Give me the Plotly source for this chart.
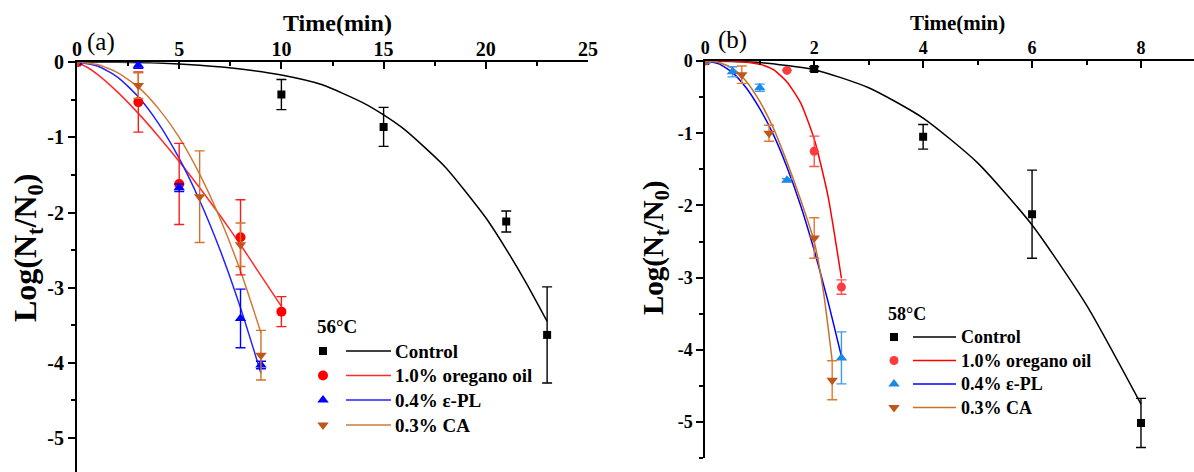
import plotly.graph_objects as go

# ---------------- data: panel (a) 56 °C ----------------
a_ctrl_t = [0, 10, 15, 21, 23]
a_ctrl_y = [0, -0.43, -0.86, -2.12, -3.63]
a_ctrl_e = [0, 0.20, 0.26, 0.14, 0.64]
a_oreg_t = [0, 3, 5, 8, 10]
a_oreg_y = [0, -0.53, -1.62, -2.33, -3.32]
a_oreg_e = [0, 0.40, 0.54, 0.50, 0.20]
a_epl_t = [0, 3, 5, 8, 9]
a_epl_y = [0, -0.04, -1.67, -3.41, -4.03]
a_epl_e = [0, 0.04, 0.05, 0.39, 0.05]
a_ca_t = [0, 3, 6, 8, 9]
a_ca_y = [0, -0.31, -1.79, -2.43, -3.90]
a_ca_e = [0, 0.17, 0.61, 0.29, 0.33]

# fitted curves
a_fit_ctrl_t = [0, 2, 4, 6, 8, 10, 12, 14, 15, 16, 18, 20, 21, 22, 23]
a_fit_ctrl_y = [0, 0, -0.01, -0.04, -0.09, -0.17, -0.30, -0.54, -0.70, -0.89, -1.39, -2.07, -2.49, -2.95, -3.45]
a_fit_oreg_t = [0, 0.5, 1, 2, 3, 4, 5, 6, 7, 8, 9, 10]
a_fit_oreg_y = [0, -0.066, -0.16, -0.40, -0.68, -0.99, -1.32, -1.67, -2.04, -2.43, -2.84, -3.25]
a_fit_epl_t = [0, 1, 2, 3, 4, 5, 6, 7, 8, 9]
a_fit_epl_y = [0, -0.05, -0.20, -0.46, -0.82, -1.28, -1.84, -2.50, -3.27, -4.14]
a_fit_ca_t = [0, 1, 2, 3, 4, 5, 6, 7, 8, 9]
a_fit_ca_y = [0, -0.03, -0.14, -0.33, -0.62, -1.00, -1.49, -2.08, -2.78, -3.60]

# ---------------- data: panel (b) 58 °C ----------------
b_ctrl_t = [0, 2, 4, 6, 8]
b_ctrl_y = [0, -0.11, -1.05, -2.12, -5.01]
b_ctrl_e = [0, 0.03, 0.17, 0.61, 0.34]
b_oreg_t = [0, 1.5, 2, 2.5]
b_oreg_y = [0, -0.13, -1.25, -3.13]
b_oreg_e = [0, 0, 0.21, 0.10]
b_epl_t = [0, 0.5, 1, 1.5, 2.5]
b_epl_y = [0, -0.15, -0.37, -1.65, -4.11]
b_epl_e = [0, 0.07, 0.05, 0.02, 0.36]
b_ca_t = [0, 0.67, 1.17, 2, 2.33]
b_ca_y = [0, -0.19, -1.00, -2.45, -4.42]
b_ca_e = [0, 0.12, 0.11, 0.28, 0.27]

b_fit_ctrl_t = [0, 1, 2, 3, 4, 5, 6, 7, 8]
b_fit_ctrl_y = [0, -0.02, -0.12, -0.37, -0.79, -1.41, -2.27, -3.38, -4.75]
b_fit_oreg_t = [0, 0.5, 1, 1.25, 1.5, 1.75, 2, 2.25, 2.5]
b_fit_oreg_y = [0, -0.002, -0.045, -0.12, -0.29, -0.58, -1.08, -1.86, -3.01]
b_fit_epl_t = [0, 0.25, 0.5, 0.75, 1, 1.25, 1.5, 1.75, 2, 2.25, 2.5]
b_fit_epl_y = [0, -0.04, -0.16, -0.37, -0.66, -1.02, -1.47, -2.00, -2.62, -3.32, -4.09]
b_fit_ca_t = [0, 0.25, 0.5, 0.75, 1, 1.25, 1.5, 1.75, 2, 2.17, 2.33]
b_fit_ca_y = [0, -0.02, -0.10, -0.28, -0.56, -0.93, -1.40, -1.92, -2.50, -3.20, -4.15]

series_names = ["Control", "1.0% oregano oil", "0.4% \u03b5-PL", "0.3% CA"]

# tick labels
a_xticks = [0, 5, 10, 15, 20, 25]
a_xminor = [2.5, 7.5, 12.5, 17.5, 22.5]
b_xticks = [0, 2, 4, 6, 8]
b_xminor = [1, 3, 5, 7]
yticks = [0, -1, -2, -3, -4, -5]
yminor = [-0.5, -1.5, -2.5, -3.5, -4.5, -5.5]
ytick_text = ["0", "-1", "-2", "-3", "-4", "-5"]

FONT = "Liberation Serif"
W, H = 1194, 472

# ---------------- styles ----------------
sty_a = [
    dict(sym="square", size=8, mc="#000000", lc="#000000", ec="#000000"),
    dict(sym="circle", size=10, mc="#ff0000", lc="#ff2a2a", ec="#ff1a1a"),
    dict(sym="triangle-up", size=10, mc="#0000ff", lc="#2222ff", ec="#0000ff"),
    dict(sym="triangle-down", size=10, mc="#c0561a", lc="#d07a36", ec="#d2722e"),
]
sty_b = [
    dict(sym="square", size=8, mc="#000000", lc="#000000", ec="#000000"),
    dict(sym="circle", size=9, mc="#ff3b3b", lc="#ff0000", ec="#ff5050"),
    dict(sym="triangle-up", size=10, mc="#1e88e5", lc="#0000ff", ec="#3a9cf0"),
    dict(sym="triangle-down", size=10, mc="#c0561a", lc="#c8702a", ec="#e07a30"),
]

fig = go.Figure()

def add_panel(xa, ya, pts, fits, styles):
    for (ft, fy), s in zip(fits, styles):
        fig.add_trace(go.Scatter(x=ft, y=fy, mode="lines", line=dict(color=s["lc"], width=1.5, shape="spline", smoothing=0.6),
                                 xaxis=xa, yaxis=ya, showlegend=False, hoverinfo="skip"))
    for (t, y, e), s in zip(pts, styles):
        fig.add_trace(go.Scatter(x=t, y=y, mode="markers",
                                 marker=dict(symbol=s["sym"], size=s["size"], color=s["mc"]),
                                 error_y=dict(type="data", array=e, visible=True, color=s["ec"], thickness=1.4, width=5),
                                 xaxis=xa, yaxis=ya, showlegend=False))

add_panel("x", "y",
          [(a_ctrl_t, a_ctrl_y, a_ctrl_e), (a_oreg_t, a_oreg_y, a_oreg_e), (a_epl_t, a_epl_y, a_epl_e), (a_ca_t, a_ca_y, a_ca_e)],
          [(a_fit_ctrl_t, a_fit_ctrl_y), (a_fit_oreg_t, a_fit_oreg_y), (a_fit_epl_t, a_fit_epl_y), (a_fit_ca_t, a_fit_ca_y)],
          sty_a)
add_panel("x2", "y2",
          [(b_ctrl_t, b_ctrl_y, b_ctrl_e), (b_oreg_t, b_oreg_y, b_oreg_e), (b_epl_t, b_epl_y, b_epl_e), (b_ca_t, b_ca_y, b_ca_e)],
          [(b_fit_ctrl_t, b_fit_ctrl_y), (b_fit_oreg_t, b_fit_oreg_y), (b_fit_epl_t, b_fit_epl_y), (b_fit_ca_t, b_fit_ca_y)],
          sty_b)

# ---------------- custom legends (pixel-space overlay axis) ----------------
annotations = []

def add_legend(title, x0, ytitle, y_rows, mx, lx0, lx1, tx, styles, fsize):
    annotations.append(dict(text="<b>" + title + "</b>", x=x0, y=ytitle, xref="x3", yref="y3",
                            xanchor="left", yanchor="middle", showarrow=False,
                            font=dict(family=FONT, size=fsize, color="black")))
    for name, yy, s in zip(series_names, y_rows, styles):
        fig.add_trace(go.Scatter(x=[lx0, lx1], y=[yy, yy], mode="lines", line=dict(color=s["lc"], width=1.5),
                                 xaxis="x3", yaxis="y3", showlegend=False, hoverinfo="skip"))
        fig.add_trace(go.Scatter(x=[mx], y=[yy], mode="markers",
                                 marker=dict(symbol=s["sym"], size=s["size"], color=s["mc"]),
                                 xaxis="x3", yaxis="y3", showlegend=False, hoverinfo="skip"))
        annotations.append(dict(text="<b>" + name + "</b>", x=tx, y=yy, xref="x3", yref="y3",
                                xanchor="left", yanchor="middle", showarrow=False,
                                font=dict(family=FONT, size=fsize, color="black")))

add_legend("56\u00b0C", 315, 326, [351, 375.5, 400, 425], 323, 346, 391, 393, sty_a, 19)
add_legend("58\u00b0C", 886, 314, [337, 360.5, 384, 407.5], 894, 913, 956, 959, sty_b, 18)

# panel letters and axis titles
annotations += [
    dict(text="(a)", x=101, y=42, xref="x3", yref="y3", showarrow=False,
         font=dict(family=FONT, size=25, color="black")),
    dict(text="(b)", x=732, y=40, xref="x3", yref="y3", showarrow=False,
         font=dict(family=FONT, size=25, color="black")),
    dict(text="<b>Time(min)</b>", x=337, y=23, xref="x3", yref="y3", showarrow=False,
         font=dict(family=FONT, size=24, color="black")),
    dict(text="<b>Time(min)</b>", x=957, y=23, xref="x3", yref="y3", showarrow=False,
         font=dict(family=FONT, size=21, color="black")),
    dict(text="<b>Log(N<sub>t</sub>/N<sub>0</sub>)</b>", x=27, y=248, xref="x3", yref="y3", showarrow=False,
         textangle=-90, font=dict(family=FONT, size=32, color="black")),
    dict(text="<b>Log(N<sub>t</sub>/N<sub>0</sub>)</b>", x=655, y=248, xref="x3", yref="y3", showarrow=False,
         textangle=-90, font=dict(family=FONT, size=29, color="black")),
]

# ---------------- axes ----------------
def xaxis_def(domain, rng, ticks, minor, fsize, anchor, standoff):
    return dict(domain=domain, range=rng, side="top", anchor=anchor, automargin=False,
                showline=True, linecolor="black", linewidth=2, showgrid=False, zeroline=False,
                tickmode="array", tickvals=ticks, ticktext=[str(v) for v in ticks],
                ticks="inside", ticklen=7, tickwidth=2, tickcolor="black", ticklabelstandoff=standoff,
                minor=dict(tickmode="array", tickvals=minor, ticks="inside", ticklen=4, tickwidth=2, tickcolor="black"),
                tickfont=dict(family=FONT, size=fsize, color="black", weight="bold"))

def yaxis_def(domain, rng, fsize, anchor):
    return dict(domain=domain, range=rng, anchor=anchor, automargin=False,
                showline=True, linecolor="black", linewidth=2, showgrid=False, zeroline=False,
                tickmode="array", tickvals=yticks, ticktext=ytick_text,
                ticks="outside", ticklen=7, tickwidth=2, tickcolor="black",
                minor=dict(tickmode="array", tickvals=yminor, ticks="outside", ticklen=4, tickwidth=2, tickcolor="black"),
                tickfont=dict(family=FONT, size=fsize, color="black", weight="bold"))

a_left, a_right, a_top = 77, 588, 62.3
b_left, b_top, b_bot = 705.3, 61, 458.3
a_ppu_y = 75.1
b_ppu_x = 54.46

fig.update_layout(
    width=W, height=H, autosize=False,
    margin=dict(l=0, r=0, t=0, b=0, pad=0, autoexpand=False),
    paper_bgcolor="white", plot_bgcolor="rgba(0,0,0,0)",
    showlegend=False,
    xaxis=xaxis_def([a_left / W, a_right / W], [0, 25], a_xticks, a_xminor, 20, "y", -4),
    yaxis=yaxis_def([0, 1 - a_top / H], [-(H - a_top) / a_ppu_y, 0], 20, "x"),
    xaxis2=xaxis_def([b_left / W, 1.0], [0, (W - b_left) / b_ppu_x], b_xticks, b_xminor, 18, "y2", -2),
    yaxis2=yaxis_def([1 - b_bot / H, 1 - b_top / H], [-5.5, 0], 18, "x2"),
    xaxis3=dict(domain=[0, 1], range=[0, W], visible=False, anchor="y3", fixedrange=True, automargin=False),
    yaxis3=dict(domain=[0, 1], range=[H, 0], visible=False, anchor="x3", fixedrange=True, automargin=False),
    annotations=annotations,
)

fig.write_html("out.html", config={"responsive": False, "displayModeBar": False})
